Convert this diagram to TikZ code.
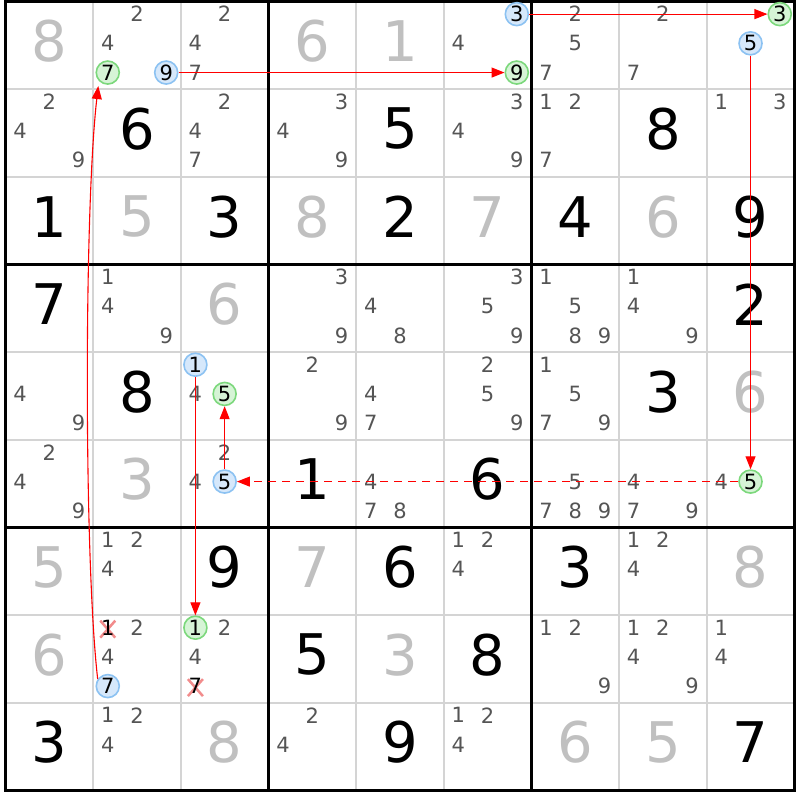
\documentclass[tikz,border=0pt]{standalone}
\usepackage{fontspec}
\setmainfont{DejaVu Sans}
\usetikzlibrary{arrows.meta,calc}
\definecolor{givc}{HTML}{C0C0C0}
\definecolor{candc}{HTML}{555555}
\definecolor{gridc}{HTML}{D4D4D4}
\definecolor{bfill}{HTML}{D6E8FB}
\definecolor{bline}{HTML}{8CC2F2}
\definecolor{gfill}{HTML}{D6F4D6}
\definecolor{gline}{HTML}{7CD87C}
\definecolor{xcol}{HTML}{F28C8C}
\definecolor{arrc}{HTML}{FF0000}
\tikzset{
 bigd/.style={inner sep=0pt, font=\fontsize{56}{60}\selectfont},
 givn/.style={bigd, text=givc},
 solv/.style={bigd, text=black},
 cnd/.style={inner sep=0pt, font=\fontsize{21}{24}\selectfont, text=candc},
 crossd/.style={cnd, text=black},
 bc/.style={circle, minimum size=23pt, inner sep=0pt, fill=bfill, draw=bline, line width=1.6pt, font=\fontsize{21}{24}\selectfont, text=black},
 gc/.style={bc, fill=gfill, draw=gline},
 arr/.style={draw=arrc, line width=1.1pt, -{Triangle[length=13pt,width=10pt]}},
 dsh/.style={dash pattern=on 8pt off 6pt},
 xmark/.style={draw=xcol, line width=2.5pt},
 thinline/.style={draw=gridc, line width=2pt},
 thickline/.style={draw=black, line width=3pt},
}
\newcommand\Giv[3]{\pgfmathsetmacro\tx{5.5+(#2-0.5)*87.65}\pgfmathsetmacro\ty{1.5+(#1-0.5)*87.65-4}\node[givn] (s#1#2) at (\tx,\ty) {#3};}
\newcommand\Sol[3]{\pgfmathsetmacro\tx{5.5+(#2-0.5)*87.65}\pgfmathsetmacro\ty{1.5+(#1-0.5)*87.65-4}\node[solv] (s#1#2) at (\tx,\ty) {#3};}
\newcommand\Cpt[3]{\pgfmathsetmacro\tx{5.5+(#2-1)*87.65+14.61+mod(#3-1,3)*29.22}\pgfmathsetmacro\ty{1.5+(#1-1)*87.65+14.61+floor((#3-1)/3)*29.22-2}\coordinate (p#1#2#3) at (\tx,\ty);}
\newcommand\Cands[3]{\foreach \dd in {#3}{\Cpt{#1}{#2}{\dd}\node[cnd] (n#1#2\dd) at (p#1#2\dd) {\dd};}}
\begin{document}
\begin{tikzpicture}[x=1pt,y=-1pt]
\useasboundingbox[fill=white] (0,0) rectangle (800,800);
% grid
\foreach \i in {1,2,4,5,7,8}{
 \draw[thinline] ({5.5+\i*87.65},1.5) -- ({5.5+\i*87.65},790.35);
 \draw[thinline] (5.5,{1.5+\i*87.65}) -- (794.35,{1.5+\i*87.65});
}
\foreach \i in {3,6}{
 \draw[thickline] ({5.5+\i*87.65},1.5) -- ({5.5+\i*87.65},790.35);
 \draw[thickline] (5.5,{1.5+\i*87.65}) -- (794.35,{1.5+\i*87.65});
}
\draw[thickline] (5.5,1.5) rectangle (794.35,790.35);
% row 1
\Giv{1}{1}{8}
\Cands{1}{2}{2,4}
\Cpt{1}{2}{7}\node[gc] (g127) at (p127) {7};
\Cpt{1}{2}{9}\node[bc] (b129) at (p129) {9};
\Cands{1}{3}{2,4,7}
\Giv{1}{4}{6}
\Giv{1}{5}{1}
\Cands{1}{6}{4}
\Cpt{1}{6}{3}\node[bc] (b163) at (p163) {3};
\Cpt{1}{6}{9}\node[gc] (g169) at (p169) {9};
\Cands{1}{7}{2,5,7}
\Cands{1}{8}{2,7}
\Cpt{1}{9}{3}\node[gc] (g193) at (p193) {3};
\Cpt{1}{9}{5}\node[bc] (b195) at (p195) {5};
% row 2
\Cands{2}{1}{2,4,9}
\Sol{2}{2}{6}
\Cands{2}{3}{2,4,7}
\Cands{2}{4}{3,4,9}
\Sol{2}{5}{5}
\Cands{2}{6}{3,4,9}
\Cands{2}{7}{1,2,7}
\Sol{2}{8}{8}
\Cands{2}{9}{1,3}
% row 3
\Sol{3}{1}{1}
\Giv{3}{2}{5}
\Sol{3}{3}{3}
\Giv{3}{4}{8}
\Sol{3}{5}{2}
\Giv{3}{6}{7}
\Sol{3}{7}{4}
\Giv{3}{8}{6}
\Sol{3}{9}{9}
% row 4
\Sol{4}{1}{7}
\Cands{4}{2}{1,4,9}
\Giv{4}{3}{6}
\Cands{4}{4}{3,9}
\Cands{4}{5}{4,8}
\Cands{4}{6}{3,5,9}
\Cands{4}{7}{1,5,8,9}
\Cands{4}{8}{1,4,9}
\Sol{4}{9}{2}
% row 5
\Cands{5}{1}{4,9}
\Sol{5}{2}{8}
\Cands{5}{3}{4}
\Cpt{5}{3}{1}\node[bc] (b531) at (p531) {1};
\Cpt{5}{3}{5}\node[gc] (g535) at (p535) {5};
\Cands{5}{4}{2,9}
\Cands{5}{5}{4,7}
\Cands{5}{6}{2,5,9}
\Cands{5}{7}{1,5,7,9}
\Sol{5}{8}{3}
\Giv{5}{9}{6}
% row 6
\Cands{6}{1}{2,4,9}
\Giv{6}{2}{3}
\Cands{6}{3}{2,4}
\Cpt{6}{3}{5}\node[bc] (b635) at (p635) {5};
\Sol{6}{4}{1}
\Cands{6}{5}{4,7,8}
\Sol{6}{6}{6}
\Cands{6}{7}{5,7,8,9}
\Cands{6}{8}{4,7,9}
\Cands{6}{9}{4}
\Cpt{6}{9}{5}\node[gc] (g695) at (p695) {5};
% row 7
\Giv{7}{1}{5}
\Cands{7}{2}{1,2,4}
\Sol{7}{3}{9}
\Giv{7}{4}{7}
\Sol{7}{5}{6}
\Cands{7}{6}{1,2,4}
\Sol{7}{7}{3}
\Cands{7}{8}{1,2,4}
\Giv{7}{9}{8}
% row 8
\Giv{8}{1}{6}
\Cands{8}{2}{2,4}
\Cpt{8}{2}{1}
\draw[xmark, shift={(p821)}] (-7.5,-7) -- (7.5,10) (-7.5,10) -- (7.5,-7);
\node[crossd] (x821) at (p821) {1};
\Cpt{8}{2}{7}\node[bc] (b827) at (p827) {7};
\Cands{8}{3}{2,4}
\Cpt{8}{3}{1}\node[gc] (g831) at (p831) {1};
\Cpt{8}{3}{7}
\draw[xmark, shift={(p837)}] (-7.5,-7) -- (7.5,10) (-7.5,10) -- (7.5,-7);
\node[crossd] (x837) at (p837) {7};
\Sol{8}{4}{5}
\Giv{8}{5}{3}
\Sol{8}{6}{8}
\Cands{8}{7}{1,2,9}
\Cands{8}{8}{1,2,4,9}
\Cands{8}{9}{1,4}
% row 9
\Sol{9}{1}{3}
\Cands{9}{2}{1,2,4}
\Giv{9}{3}{8}
\Cands{9}{4}{2,4}
\Sol{9}{5}{9}
\Cands{9}{6}{1,2,4}
\Giv{9}{7}{6}
\Giv{9}{8}{5}
\Sol{9}{9}{7}
% connectors
\draw[arr] (b129) -- (g169);
\draw[arr] (b163) -- (g193);
\draw[arr] (b195) -- (g695);
\draw[arr, dsh] (g695) -- (b635);
\draw[arr] (b635) -- (g535);
\draw[arr] (b531) -- (g831);
\coordinate (t7) at ($(g127)+(-9.5,13.5)$);
\draw[arr] (b827.145) .. controls (84,560) and (84,210) .. (t7);
\end{tikzpicture}
\end{document}
